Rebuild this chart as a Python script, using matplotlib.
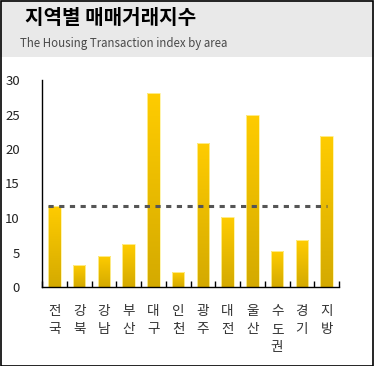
# 지역별 매매거래지수 - bar chart with national average line
import numpy as np
import matplotlib.pyplot as plt
from matplotlib.patches import Rectangle
from matplotlib.colors import LinearSegmentedColormap

plt.rcParams['font.family'] = ['Noto Sans CJK KR', 'DejaVu Sans']

regions = ["전국", "강북", "강남", "부산", "대구", "인천",
           "광주", "대전", "울산", "수도권", "경기", "지방"]
values = [11.8, 3.2, 4.5, 6.2, 28.1, 2.2, 20.9, 10.2, 25.0, 5.2, 6.8, 21.9]
average = 11.8
yticks = [0, 5, 10, 15, 20, 25, 30]

fig = plt.figure(figsize=(3.74, 3.66), dpi=100)

# header band and outer frame
fig.patches.append(Rectangle((0, 1 - 57 / 366), 1, 57 / 366, transform=fig.transFigure,
                             facecolor="#e9e9e9", edgecolor="none", zorder=0))
fig.patches.append(Rectangle((0.5 / 374, 0.5 / 366), 1 - 1.5 / 374, 1 - 1.5 / 366,
                             transform=fig.transFigure, facecolor="none",
                             edgecolor="black", linewidth=1.2, zorder=5))
fig.text(25 / 374, 1 - 18 / 366, "지역별 매매거래지수", fontsize=14.5, fontweight="bold",
         va="center", ha="left", color="black")
fig.text(20 / 374, 1 - 43 / 366, "The Housing Transaction index by area", fontsize=8.3,
         va="center", ha="left", color="#4a4a4a")

ax = fig.add_axes([42 / 374, 79 / 366, 297 / 374, 207 / 366])
x = np.arange(len(regions))
bars = ax.bar(x, values, width=0.5, color="none", edgecolor="none")

# vertical gradient in each bar
grad = np.linspace(0, 1, 256).reshape(-1, 1)
cmap = LinearSegmentedColormap.from_list("gold", ["#d4aa00", "#ffcc00"])
for b in bars:
    x0, y0 = b.get_x(), b.get_y()
    w, h = b.get_width(), b.get_height()
    im = ax.imshow(grad, extent=(x0, x0 + w, y0, y0 + h), origin="lower",
                   cmap=cmap, aspect="auto", zorder=2)
    im.set_clip_path(b)
    ax.add_patch(Rectangle((x0, y0), w, h, facecolor="none",
                           edgecolor="#fff2a0", linewidth=0.6, zorder=2.5))

ax.hlines(average, -0.25, len(regions) - 1, colors="#555555", linewidth=2.2,
          linestyles=(0, (1.7, 1.8)), zorder=3)

ax.set_xlim(-0.5, len(regions) - 0.5)
ax.set_ylim(0, 30)
ax.set_yticks(yticks)
ax.set_yticklabels([str(t) for t in yticks], fontsize=9.5, color="#222222")
ax.tick_params(axis="y", length=0, pad=16)

ax.set_xticks(np.arange(len(regions) + 1) - 0.5)
ax.set_xticklabels([])
ax.tick_params(axis="x", direction="in", length=4, width=1, color="black")
ax.set_xticks(x, minor=True)
ax.set_xticklabels(["\n".join(r) for r in regions], minor=True, fontsize=9.8,
                   color="#333333", linespacing=1.4, va="top")
ax.tick_params(axis="x", which="minor", length=0, pad=12)

for s in ["top", "right"]:
    ax.spines[s].set_visible(False)
for s in ["left", "bottom"]:
    ax.spines[s].set_linewidth(1)
    ax.spines[s].set_color("black")

fig.savefig("out.png", dpi=100)
